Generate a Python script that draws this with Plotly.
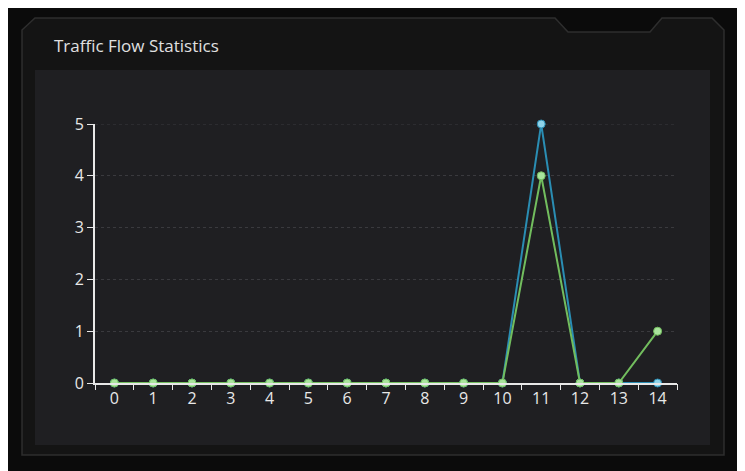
import plotly.graph_objects as go

hours = list(range(15))
series_a = [0, 0, 0, 0, 0, 0, 0, 0, 0, 0, 0, 5, 0, 0, 0]
series_b = [0, 0, 0, 0, 0, 0, 0, 0, 0, 0, 0, 4, 0, 0, 1]
title = "Traffic Flow Statistics"

# the page sits 8px in from the window edge
OFF = 8
W, H = 745, 471
L, R, T, B = 95 - OFF, 677 - OFF, 124 - OFF, 383 - OFF


def px(x):
    return (x - OFF - L) / (R - L)


def py(y):
    return (B - (y - OFF)) / (B - T)


fig = go.Figure()
fig.add_trace(go.Scatter(
    x=hours, y=series_a, mode='lines+markers', name='A', cliponaxis=False,
    line=dict(color='#2a8db3', width=2),
    marker=dict(size=8, color='#8fd4ea', line=dict(color='#2a8db3', width=1))
))
fig.add_trace(go.Scatter(
    x=hours, y=series_b, mode='lines+markers', name='B', cliponaxis=False,
    line=dict(color='#72bd5e', width=2),
    marker=dict(size=8, color='#a9e49c', line=dict(color='#72bd5e', width=1))
))
# boundary ticks on a hidden overlay axis
fig.add_trace(go.Scatter(x=[-0.5, 14.5], y=[0, 0], xaxis='x2', mode='lines',
                         line=dict(width=0), hoverinfo='skip', showlegend=False))

shapes = [
    dict(type='path', xref='paper', yref='paper',
         path=f"M {px(22)},{py(30)} L {px(35)},{py(18)} L {px(555)},{py(18)} "
              f"L {px(568)},{py(32)} L {px(650)},{py(32)} L {px(662)},{py(18)} "
              f"L {px(712)},{py(18)} L {px(724)},{py(30)} L {px(724)},{py(455)} "
              f"L {px(22)},{py(455)} Z",
         fillcolor='#141414', line=dict(color='#2e2e2e', width=1.5), layer='below'),
    dict(type='rect', xref='paper', yref='paper',
         x0=px(35), x1=px(710), y0=py(445), y1=py(70),
         fillcolor='#1f1f22', line=dict(width=0), layer='below'),
]

fig.update_layout(
    width=W, height=H,
    margin=dict(l=L, r=W - R, t=T, b=H - B),
    paper_bgcolor='#0b0b0b', plot_bgcolor='rgba(0,0,0,0)',
    showlegend=False, shapes=shapes,
    font=dict(family='Open Sans', color='#e8e8e8', size=16),
    annotations=[dict(text=title, xref='paper', yref='paper', x=px(52), y=py(46),
                      xanchor='left', yanchor='middle', showarrow=False,
                      font=dict(size=17, color='#e0e0e0'))],
    xaxis=dict(range=[-0.5, 14.5], tickmode='array', tickvals=hours,
               ticks='', showgrid=False, zeroline=False, showline=True,
               linecolor='#e8e8e8', linewidth=2, fixedrange=True),
    xaxis2=dict(range=[-0.5, 14.5], overlaying='x', side='bottom',
                tickmode='array', tickvals=[i - 0.5 for i in range(16)],
                showticklabels=False, ticks='outside', ticklen=6,
                tickcolor='#e8e8e8', showgrid=False, zeroline=False),
    yaxis=dict(range=[0, 5], dtick=1, ticks='outside', ticklen=6,
               tickcolor='#e8e8e8', showline=True, linecolor='#e8e8e8', linewidth=2,
               gridcolor='#3a3a3e', griddash='dot', zeroline=False, showgrid=True),
)
fig.add_hline(y=5, line=dict(color='#3a3a3e', dash='dot', width=1), layer='below')

fig.write_html("out.html")
